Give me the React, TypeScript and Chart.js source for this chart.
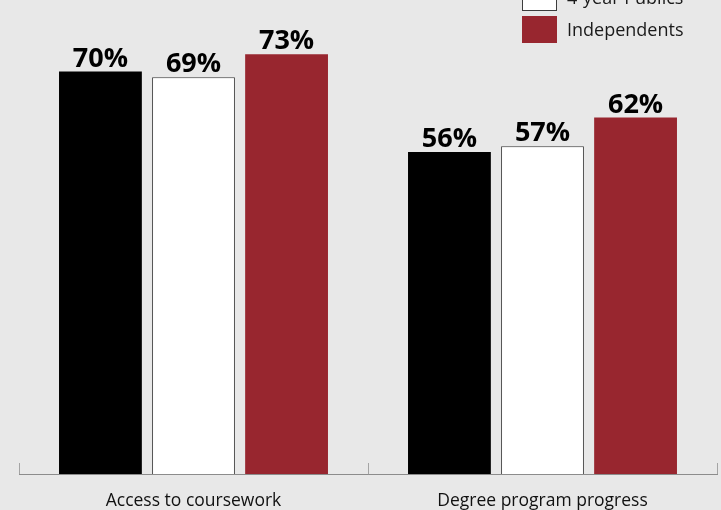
import React, { useEffect, useRef } from "react";
import { Chart, registerables } from "chart.js";

Chart.register(...registerables);

const categories = ["Access to coursework", "Degree program progress"];
const seriesNames = ["Community Colleges", "4-year Publics", "Independents"];
const communityColleges = [70, 56];
const fourYearPublics = [69, 57];
const independents = [73, 62];

const BG = "#e8e8e8";
const RED = "#98262f";
const FONT = "'Open Sans', 'Noto Sans', sans-serif";
const OFFSET = 60; // canvas is shifted up so the top of the legend is cut like the reference
const W = 721;
const VIEW_H = 510 + OFFSET;
const H = VIEW_H + 30;

const bgPlugin = {
  id: "bg",
  beforeDraw(chart: any) {
    const { ctx } = chart;
    ctx.save();
    ctx.fillStyle = BG;
    ctx.fillRect(0, 0, chart.width, chart.height);
    ctx.restore();
  },
};

const valueLabels = {
  id: "valueLabels",
  afterDatasetsDraw(chart: any) {
    const { ctx } = chart;
    ctx.save();
    ctx.font = `bold 27px ${FONT}`;
    ctx.fillStyle = "#000";
    ctx.textAlign = "center";
    ctx.textBaseline = "alphabetic";
    chart.data.datasets.forEach((ds: any, di: number) => {
      const meta = chart.getDatasetMeta(di);
      meta.data.forEach((el: any, i: number) => {
        ctx.fillText(`${ds.data[i]}%`, el.x, el.y - 5);
      });
    });
    ctx.restore();
  },
};

const boxLegend = {
  id: "boxLegend",
  afterDraw(chart: any) {
    const { ctx } = chart;
    const x = 522;
    const y0 = 12;
    const bw = 35;
    const bh = 27;
    const pitch = 32;
    ctx.save();
    ctx.font = `18px ${FONT}`;
    ctx.textBaseline = "middle";
    ctx.textAlign = "left";
    chart.data.datasets.forEach((ds: any, i: number) => {
      const y = y0 + i * pitch;
      ctx.fillStyle = ds.backgroundColor;
      ctx.fillRect(x, y, bw, bh);
      if (ds.borderWidth) {
        ctx.strokeStyle = ds.borderColor;
        ctx.lineWidth = 1;
        ctx.strokeRect(x + 0.5, y + 0.5, bw - 1, bh - 1);
      }
      ctx.fillStyle = "#1a1a1a";
      ctx.fillText(ds.label, x + bw + 10, y + bh / 2 + 1);
    });
    ctx.restore();
  },
};

export default function App() {
  const ref = useRef<HTMLCanvasElement | null>(null);

  useEffect(() => {
    if (!ref.current) return;
    const chart = new Chart(ref.current, {
      type: "bar",
      data: {
        labels: categories,
        datasets: [
          {
            label: seriesNames[0],
            data: communityColleges,
            backgroundColor: "#000000",
            borderWidth: 0,
          },
          {
            label: seriesNames[1],
            data: fourYearPublics,
            backgroundColor: "#ffffff",
            borderColor: "#3c3c3c",
            borderWidth: 1,
          },
          {
            label: seriesNames[2],
            data: independents,
            backgroundColor: RED,
            borderWidth: 0,
          },
        ],
      },
      options: {
        responsive: false,
        animation: false,
        devicePixelRatio: 1,
        categoryPercentage: 0.8,
        barPercentage: 0.89,
        layout: { padding: { left: 19, right: 4, top: 74, bottom: 0 } },
        plugins: {
          legend: { display: false },
          tooltip: { enabled: false },
          title: { display: false },
        },
        scales: {
          x: {
            offset: true,
            grid: {
              display: true,
              offset: true,
              drawOnChartArea: false,
              drawTicks: true,
              tickLength: -11,
              color: "#a4a4a4",
              lineWidth: 1,
            },
            border: { display: true, color: "#8c8c8c", width: 1 },
            ticks: {
              color: "#111",
              font: { family: FONT, size: 17.5 },
              padding: 28,
              maxRotation: 0,
              autoSkip: false,
            },
          },
          y: {
            display: false,
            min: 0,
            max: 80,
          },
        },
      },
      plugins: [bgPlugin, valueLabels, boxLegend],
    });
    return () => chart.destroy();
  }, []);

  return (
    <div
      style={{
        position: "fixed",
        left: 0,
        top: -OFFSET,
        width: W,
        height: VIEW_H,
        background: BG,
        overflow: "hidden",
      }}
    >
      <canvas ref={ref} width={W} height={H} style={{ display: "block", width: W, height: H }} />
    </div>
  );
}
